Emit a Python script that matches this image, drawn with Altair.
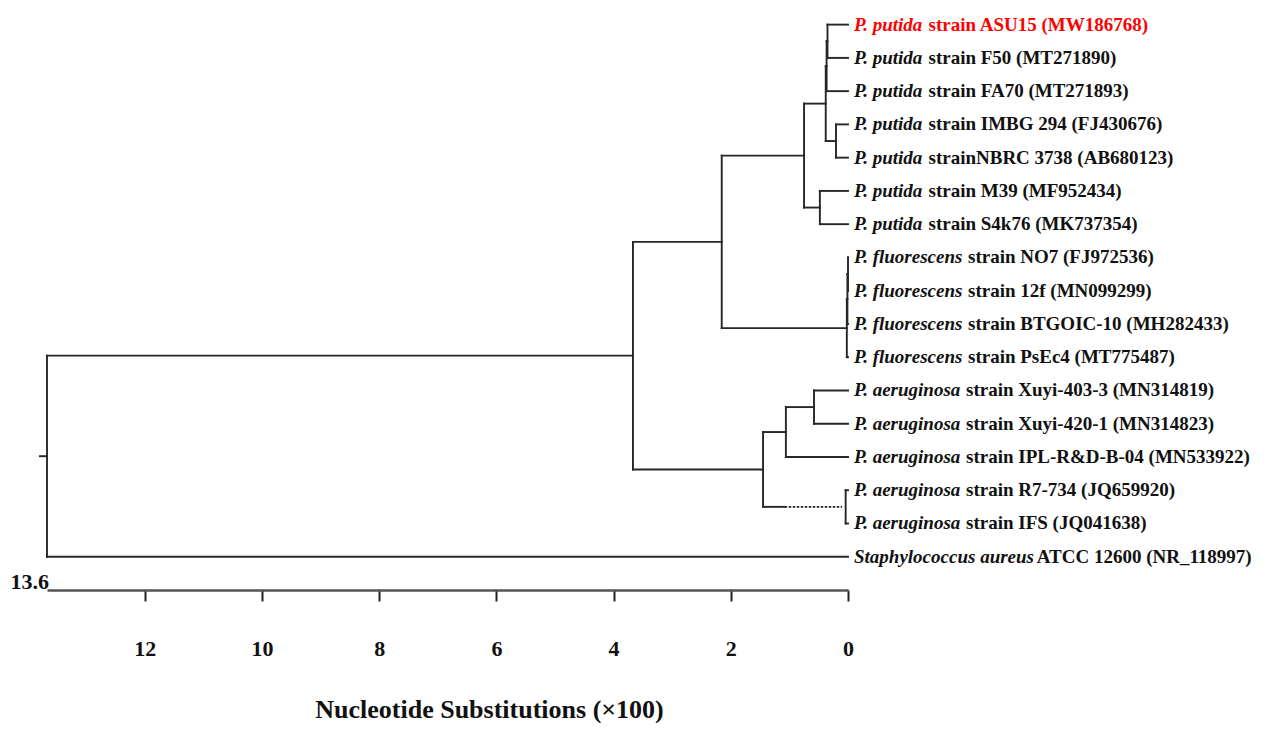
import altair as alt
import pandas as pd

# ---------------- data ----------------
genus = ["P. putida"] * 7 + ["P. fluorescens"] * 4 + ["P. aeruginosa"] * 5 + ["Staphylococcus aureus"]
rest = [
    "strain ASU15 (MW186768)", "strain F50 (MT271890)", "strain FA70 (MT271893)",
    "strain IMBG 294 (FJ430676)", "strainNBRC 3738 (AB680123)", "strain M39 (MF952434)",
    "strain S4k76 (MK737354)", "strain NO7 (FJ972536)", "strain 12f (MN099299)",
    "strain BTGOIC-10 (MH282433)", "strain PsEc4 (MT775487)", "strain Xuyi-403-3 (MN314819)",
    "strain Xuyi-420-1 (MN314823)", "strain IPL-R&D-B-04 (MN533922)", "strain R7-734 (JQ659920)",
    "strain IFS (JQ041638)", "ATCC 12600 (NR_118997)",
]
highlight = [True] + [False] * 16

# internal nodes (height in nucleotide substitutions x100)
node_names = ["A", "B", "D", "C", "E", "PUT", "F1", "F2", "F3", "PF", "X", "AU", "R", "AER", "ING", "ROOT"]
node_heights = [0.35, 0.365, 0.205, 0.38, 0.48, 0.75, 0.0, 0.01, 0.02, 2.155, 0.58, 1.06, 0.04, 1.45, 3.67, 13.67]
node_children = [[0, 1], ["A", 2], [3, 4], ["B", "D"], [5, 6], ["C", "E"], [7, 8], ["F1", 9], ["F2", 10],
                 ["PUT", "F3"], [11, 12], ["X", 13], [14, 15], ["AU", "R"], ["PF", "AER"], ["ING", 16]]
# branch drawn partly dashed: (parent, child, solid until, dashed until)
broken_branch = ("AER", "R", 1.08, 0.10)
root_stem = 0.12
tick_values = [0, 2, 4, 6, 8, 10, 12]

# ---------------- tree layout ----------------
pos = {}
for i in range(len(genus)):
    pos[i] = (0.0, float(i))
for name, h, ch in zip(node_names, node_heights, node_children):
    ys = [pos[c][1] for c in ch]
    pos[name] = (h, (ys[0] + ys[-1]) / 2)

segs = []
for name, h, ch in zip(node_names, node_heights, node_children):
    ys = [pos[c][1] for c in ch]
    segs.append(dict(x=h, x2=h, y=ys[0], y2=ys[-1], dash=False))
    for c in ch:
        cx, cy = pos[c]
        if (name, c) == broken_branch[:2]:
            segs.append(dict(x=h, x2=broken_branch[2], y=cy, y2=cy, dash=False))
            segs.append(dict(x=broken_branch[2], x2=broken_branch[3], y=cy, y2=cy, dash=True))
        else:
            segs.append(dict(x=h, x2=cx, y=cy, y2=cy, dash=False))
rh, ry = pos["ROOT"]
segs.append(dict(x=rh, x2=rh + root_stem, y=ry, y2=ry, dash=False))
seg_df = pd.DataFrame(segs)

leaf_df = pd.DataFrame(dict(x=[0.0] * len(genus), y=list(range(len(genus))),
                            genus=genus, rest=rest,
                            color=["#ff0000" if h else "#111111" for h in highlight]))

# ---------------- chart ----------------
FONT = "Liberation Serif"
XMAX = 13.67
LEAF_FS = 19
xscale = alt.Scale(domain=[0, XMAX], reverse=True, nice=False, zero=False)
yscale = alt.Scale(domain=[-0.5, 17], reverse=True, nice=False, zero=False)

line_color = "#262626"

xaxis = alt.Axis(values=tick_values, title="Nucleotide Substitutions (×100)",
                 grid=False, domainColor="#555555", domainWidth=2.5, tickColor="#222222",
                 tickWidth=2, tickSize=11, labelFont=FONT, labelFontSize=22, labelFontWeight="bold",
                 labelColor="#111111", labelPadding=37, labelFlush=False, labelOverlap=False,
                 titleFont=FONT, titleFontSize=26, titleFontWeight="bold", titleColor="#111111",
                 titleX=442, titleY=127, titleBaseline="alphabetic", titleAlign="center")

X = alt.X("x:Q", scale=xscale, axis=xaxis)
Y = alt.Y("y:Q", scale=yscale, axis=None)

solid = alt.Chart(seg_df).transform_filter("!datum.dash").mark_rule(
    color=line_color, strokeWidth=1.9, strokeCap="square").encode(
    x=X, x2="x2:Q", y=Y, y2="y2:Q")
dashed = alt.Chart(seg_df).transform_filter("datum.dash").mark_rule(
    color=line_color, strokeWidth=1.6, strokeDash=[2.5, 1.5]).encode(
    x=X, x2="x2:Q", y=Y, y2="y2:Q")

genus_text = alt.Chart(leaf_df).mark_text(
    align="left", baseline="middle", dx=6, dy=0, font=FONT, fontSize=LEAF_FS,
    fontStyle="italic", fontWeight="bold").encode(
    x=X, y=Y, text="genus:N", color=alt.Color("color:N", scale=None))

rest_offsets = {"P. putida": 80.5, "P. fluorescens": 120.0, "P. aeruginosa": 118.0,
                "Staphylococcus aureus": 188.7}
rest_layers = []
for g, off in rest_offsets.items():
    rest_layers.append(
        alt.Chart(leaf_df).transform_filter(alt.datum.genus == g).mark_text(
            align="left", baseline="middle", dx=off, dy=0, font=FONT, fontSize=LEAF_FS,
            fontWeight="bold").encode(
            x=X, y=Y, text="rest:N", color=alt.Color("color:N", scale=None))
    )

scale_label = alt.Chart(pd.DataFrame(dict(x=[XMAX], t=["13.6"]))).mark_text(
    align="right", baseline="alphabetic", dx=2, font=FONT, fontSize=22, fontWeight="bold",
    color="#111111").encode(
    x=X, y=alt.value(581), text="t:N")

chart = alt.layer(solid, dashed, genus_text, *rest_layers, scale_label).properties(
    width=801, height=582,
    background="white",
    autosize=alt.AutoSizeParams(type="none"),
    padding={"left": 39, "top": 0, "right": 412, "bottom": 133},
).configure_view(stroke=None)

chart.save("out.html", embed_options={"renderer": "svg", "actions": False})
